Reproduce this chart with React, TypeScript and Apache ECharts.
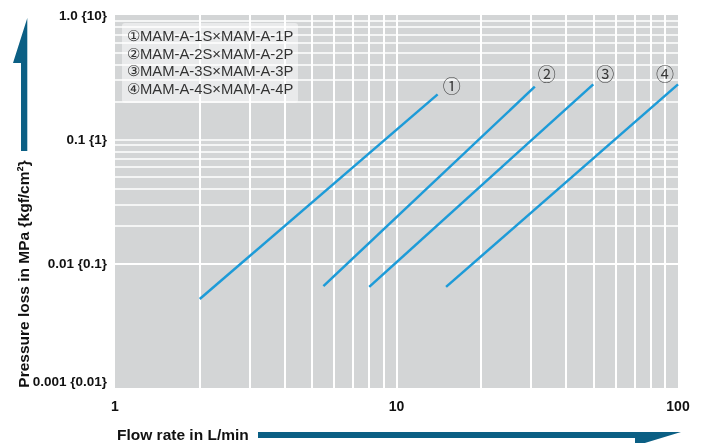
import React, { useEffect, useRef } from "react";
import * as echarts from "echarts";

// ---- data ----
const xTickValues = [1, 10, 100];
const yTickValues = [0.001, 0.01, 0.1, 1];
const yTickLabels = ["0.001 {0.01}", "0.01 {0.1}", "0.1 {1}", "1.0 {10}"];

const xGridValues = [2, 3, 4, 5, 6, 7, 8, 9, 10, 20, 30, 40, 50, 60, 70, 80, 90];
const yGridValues = [
  0.002, 0.003, 0.004, 0.005, 0.006, 0.007, 0.008, 0.009, 0.01,
  0.02, 0.03, 0.04, 0.05, 0.06, 0.07, 0.08, 0.09, 0.1,
  0.2, 0.3, 0.4, 0.5, 0.6, 0.7, 0.8, 0.9,
];

const seriesNames = [
  "MAM-A-1S×MAM-A-1P",
  "MAM-A-2S×MAM-A-2P",
  "MAM-A-3S×MAM-A-3P",
  "MAM-A-4S×MAM-A-4P",
];
const seriesMarks = ["①", "②", "③", "④"];
const line1 = [[2, 0.0052], [14, 0.23]];
const line2 = [[5.5, 0.0066], [31, 0.265]];
const line3 = [[8, 0.0065], [50, 0.277]];
const line4 = [[15, 0.0065], [100, 0.277]];
const lines = [line1, line2, line3, line4];
const markOffsets = [[14, -9], [12, -14], [12, -11], [-13, -11]];

const xTitle = "Flow rate in L/min";
const yTitle = "Pressure loss in MPa {kgf/cm²}";

const BLUE = "#1d9bd8";
const ARROW = "#0b5f84";
const GREY = "#d3d5d6";
const FONT = "'Liberation Sans', Arial, sans-serif";

export default function App() {
  const ref = useRef<HTMLDivElement>(null);
  useEffect(() => {
    if (!ref.current) return;
    const chart = echarts.init(ref.current, undefined, { renderer: "svg" });

    const gridSeries: any = {
      type: "line",
      name: "grid",
      data: [],
      z: 1,
      silent: true,
      markLine: {
        silent: true,
        z: 1,
        symbol: "none",
        animation: false,
        label: { show: false },
        emphasis: { disabled: true },
        data: [
          ...xGridValues.map((v) => ({ xAxis: v, lineStyle: { color: "#ffffff", width: 2, type: "solid", opacity: 1 } })),
          ...yGridValues.map((v) => ({ yAxis: v, lineStyle: { color: "#ffffff", width: 1.5, type: "solid", opacity: 1 } })),
        ],
      },
    };

    const lineSeries = lines.map((d, i) => ({
      type: "line",
      name: seriesNames[i],
      data: d,
      showSymbol: false,
      symbol: "none",
      z: 12,
      lineStyle: { color: BLUE, width: 2.5 },
      silent: true,
    }));

    const markSeries = lines.map((d, i) => ({
      type: "scatter",
      name: seriesMarks[i],
      data: [d[d.length - 1]],
      symbolSize: 2,
      itemStyle: { color: "rgba(0,0,0,0)" },
      z: 12,
      silent: true,
      label: {
        show: true,
        position: "inside",
        formatter: seriesMarks[i],
        offset: markOffsets[i],
        fontFamily: "'Noto Sans CJK JP', 'DejaVu Sans', sans-serif",
        fontSize: 18,
        color: "#111",
      },
    }));

    const legendTexts = seriesNames.map((n, i) => ({
      type: "text",
      x: 127,
      y: 36 + i * 17.7,
      z: 10,
      style: {
        text: seriesMarks[i] + n,
        fontFamily: FONT,
        fontSize: 14.8,
        fill: "#333",
        verticalAlign: "middle",
        align: "left",
      },
    }));

    chart.setOption({
      animation: false,
      grid: {
        left: 115,
        top: 15,
        right: 24,
        bottom: 55,
        show: true,
        backgroundColor: GREY,
        borderWidth: 0,
      },
      xAxis: {
        type: "log",
        logBase: 10,
        min: 1,
        max: 100,
        axisLine: { show: false },
        axisTick: { show: false },
        splitLine: { show: false },
        axisLabel: {
          margin: 11,
          fontFamily: FONT,
          fontWeight: "bold",
          fontSize: 14,
          color: "#111",
          formatter: (v: number) => {
            const idx = xTickValues.findIndex((t) => Math.abs(t - v) / t < 1e-6);
            return idx >= 0 ? String(xTickValues[idx]) : "";
          },
        },
      },
      yAxis: {
        type: "log",
        logBase: 10,
        min: 0.001,
        max: 1,
        axisLine: { show: false },
        axisTick: { show: false },
        splitLine: { show: false },
        axisLabel: {
          margin: 8,
          fontFamily: FONT,
          fontWeight: "bold",
          fontSize: 13.5,
          color: "#111",
          verticalAlignMinLabel: "bottom",
          formatter: (v: number) => {
            const idx = yTickValues.findIndex((t) => Math.abs(t - v) / t < 1e-6);
            return idx >= 0 ? yTickLabels[idx] : "";
          },
        },
      },
      graphic: [
        {
          type: "rect",
          z: 9,
          shape: { x: 122, y: 23, width: 176, height: 80, r: 3 },
          style: { fill: "rgba(255,255,255,0.5)" },
        },
        ...legendTexts,
        {
          type: "text",
          x: 117,
          y: 434,
          style: {
            text: xTitle,
            fontFamily: FONT,
            fontWeight: "bold",
            fontSize: 15.5,
            fill: "#111",
            verticalAlign: "middle",
            align: "left",
          },
        },
        {
          type: "text",
          x: 23,
          y: 274,
          rotation: Math.PI / 2,
          style: {
            text: yTitle,
            fontFamily: FONT,
            fontWeight: "bold",
            fontSize: 15.5,
            fill: "#111",
            verticalAlign: "middle",
            align: "center",
          },
        },
        {
          type: "polygon",
          shape: {
            points: [
              [21, 151],
              [21, 63],
              [13, 63],
              [27.3, 18],
              [27.3, 151],
            ],
          },
          style: { fill: ARROW },
        },
        {
          type: "polygon",
          shape: {
            points: [
              [258, 432],
              [681, 432],
              [635, 446],
              [635, 438],
              [258, 438],
            ],
          },
          style: { fill: ARROW },
        },
      ],
      series: [gridSeries, ...lineSeries, ...markSeries],
    });

    return () => chart.dispose();
  }, []);

  return (
    <div
      ref={ref}
      style={{ position: "fixed", left: 0, top: 0, width: 702, height: 443 }}
    />
  );
}
